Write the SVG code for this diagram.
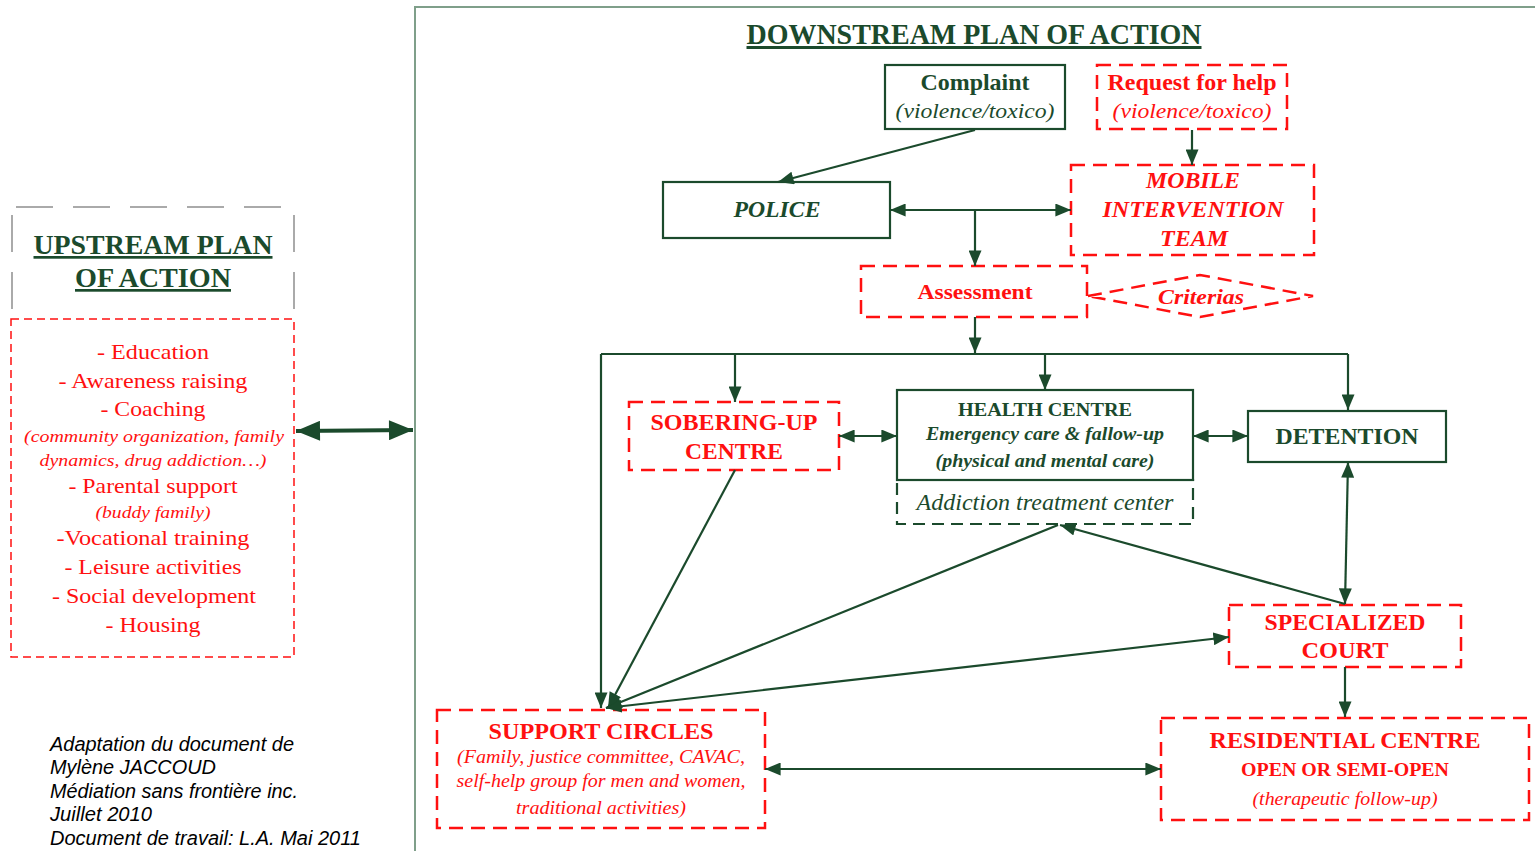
<svg xmlns="http://www.w3.org/2000/svg" width="1535" height="851" viewBox="0 0 1535 851">
<defs>
<style>
.g{fill:#1b4a2c}
.r{fill:#ff1010}
.t{font-family:"Liberation Serif","Times New Roman",serif;text-anchor:middle}
.b{font-weight:bold}
.i{font-style:italic}
.sg{fill:none;stroke:#1b4a2c;stroke-width:2.2}
.sr{fill:none;stroke:#ff1010;stroke-width:2.5;stroke-dasharray:14,8}
.sgd{fill:none;stroke:#1b4a2c;stroke-width:2.2;stroke-dasharray:12,7}
.c{fill:none;stroke:#1b4a2c;stroke-width:2.2}
.foot{font-family:"Liberation Sans",Arial,sans-serif;font-style:italic;font-size:20px;fill:#000}
</style>
<marker id="ah" viewBox="0 0 12 10" refX="12" refY="5" markerWidth="16" markerHeight="13" markerUnits="userSpaceOnUse" orient="auto-start-reverse">
<path d="M0,0 L12,5 L0,10 z" fill="#1b4a2c"/>
</marker>
<marker id="ahb" viewBox="0 0 12 10" refX="12" refY="5" markerWidth="26" markerHeight="20" markerUnits="userSpaceOnUse" orient="auto-start-reverse">
<path d="M0,0 L12,5 L0,10 z" fill="#1b4a2c"/>
</marker>
</defs>
<rect width="1535" height="851" fill="#fff"/>

<!-- frame -->
<path d="M415,851 L415,7 L1535,7" fill="none" stroke="#7f9f8a" stroke-width="2"/>

<!-- upstream -->
<g id="upstream">
<path d="M16,207 L292,207 M12,215 L12,310 M294,215 L294,310" fill="none" stroke="#aaaaaa" stroke-width="2" stroke-dasharray="37,20"/>
<text class="t b g" x="153" y="254" font-size="27" text-decoration="underline" textLength="239" lengthAdjust="spacingAndGlyphs">UPSTREAM PLAN</text>
<text class="t b g" x="153" y="287" font-size="27" text-decoration="underline" textLength="156" lengthAdjust="spacingAndGlyphs">OF ACTION</text>
<rect x="11" y="319" width="283" height="338" fill="none" stroke="#ff1010" stroke-width="1.5" stroke-dasharray="8,5"/>
<g class="t r" font-size="21">
<text x="153" y="359" textLength="112" lengthAdjust="spacingAndGlyphs">- Education</text>
<text x="153" y="388" textLength="189" lengthAdjust="spacingAndGlyphs">- Awareness raising</text>
<text x="153" y="416" textLength="105" lengthAdjust="spacingAndGlyphs">- Coaching</text>
<text class="i" x="154" y="442" font-size="17" textLength="260" lengthAdjust="spacingAndGlyphs">(community organization, family</text>
<text class="i" x="153" y="466" font-size="17" textLength="227" lengthAdjust="spacingAndGlyphs">dynamics, drug addiction…)</text>
<text x="153" y="493" textLength="169" lengthAdjust="spacingAndGlyphs">- Parental support</text>
<text class="i" x="153" y="518" font-size="16" textLength="115" lengthAdjust="spacingAndGlyphs">(buddy family)</text>
<text x="153" y="545" textLength="193" lengthAdjust="spacingAndGlyphs">-Vocational training</text>
<text x="153" y="574" textLength="177" lengthAdjust="spacingAndGlyphs">- Leisure activities</text>
<text x="154" y="603" textLength="204" lengthAdjust="spacingAndGlyphs">- Social development</text>
<text x="153" y="632" textLength="95" lengthAdjust="spacingAndGlyphs">- Housing</text>
</g>
</g>

<g id="footer" class="foot">
<text x="50" y="751" textLength="244" lengthAdjust="spacingAndGlyphs">Adaptation du document de</text>
<text x="50" y="774" textLength="166" lengthAdjust="spacingAndGlyphs">Mylène JACCOUD</text>
<text x="50" y="798" textLength="248" lengthAdjust="spacingAndGlyphs">Médiation sans frontière inc.</text>
<text x="50" y="821" textLength="102" lengthAdjust="spacingAndGlyphs">Juillet 2010</text>
<text x="50" y="845" textLength="311" lengthAdjust="spacingAndGlyphs">Document de travail: L.A. Mai 2011</text>
</g>

<g id="title">
<text class="t b g" x="974" y="44" font-size="30" text-decoration="underline" textLength="455" lengthAdjust="spacingAndGlyphs">DOWNSTREAM PLAN OF ACTION</text>
</g>

<g id="complaint">
<rect class="sg" x="885" y="65" width="180" height="64"/>
<text class="t b g" x="975" y="90" font-size="23" textLength="109" lengthAdjust="spacingAndGlyphs">Complaint</text>
<text class="t i g" x="975" y="118" font-size="22" textLength="159" lengthAdjust="spacingAndGlyphs">(violence/toxico)</text>
</g>

<g id="request">
<rect class="sr" x="1097" y="65" width="190" height="64"/>
<text class="t b r" x="1192" y="90" font-size="23" textLength="169" lengthAdjust="spacingAndGlyphs">Request for help</text>
<text class="t i r" x="1192" y="118" font-size="22" textLength="159" lengthAdjust="spacingAndGlyphs">(violence/toxico)</text>
</g>

<g id="police">
<rect class="sg" x="663" y="182" width="227" height="56"/>
<text class="t b i g" x="777" y="217" font-size="23" textLength="87" lengthAdjust="spacingAndGlyphs">POLICE</text>
</g>

<g id="mobile">
<rect class="sr" x="1071" y="165" width="243" height="90"/>
<text class="t b i r" x="1193" y="188" font-size="23" textLength="94" lengthAdjust="spacingAndGlyphs">MOBILE</text>
<text class="t b i r" x="1193" y="217" font-size="23" textLength="181" lengthAdjust="spacingAndGlyphs">INTERVENTION</text>
<text class="t b i r" x="1194" y="246" font-size="23" textLength="68" lengthAdjust="spacingAndGlyphs">TEAM</text>
</g>

<g id="assessment">
<rect class="sr" x="861" y="266" width="226" height="51"/>
<text class="t b r" x="975" y="299" font-size="21" textLength="115" lengthAdjust="spacingAndGlyphs">Assessment</text>
</g>

<g id="criterias">
<path class="sr" d="M1088,296 L1200,275 L1313,296 L1200,317 Z"/>
<text class="t b i r" x="1201" y="304" font-size="21" textLength="86" lengthAdjust="spacingAndGlyphs">Criterias</text>
</g>

<g id="sobering">
<rect class="sr" x="629" y="402" width="210" height="68"/>
<text class="t b r" x="734" y="430" font-size="23" textLength="167" lengthAdjust="spacingAndGlyphs">SOBERING-UP</text>
<text class="t b r" x="734" y="459" font-size="23" textLength="98" lengthAdjust="spacingAndGlyphs">CENTRE</text>
</g>

<g id="health">
<rect class="sg" x="897" y="390" width="296" height="90"/>
<text class="t b g" x="1045" y="416" font-size="18" textLength="174" lengthAdjust="spacingAndGlyphs">HEALTH CENTRE</text>
<text class="t b i g" x="1045" y="440" font-size="18" textLength="238" lengthAdjust="spacingAndGlyphs">Emergency care &amp; fallow-up</text>
<text class="t b i g" x="1045" y="467" font-size="18" textLength="219" lengthAdjust="spacingAndGlyphs">(physical and mental care)</text>
</g>

<g id="addiction">
<rect class="sgd" x="897" y="480" width="296" height="44"/>
<text class="t i g" x="1045" y="510" font-size="23" textLength="257" lengthAdjust="spacingAndGlyphs">Addiction treatment center</text>
</g>

<g id="detention">
<rect class="sg" x="1248" y="411" width="198" height="51"/>
<text class="t b g" x="1347" y="444" font-size="23" textLength="143" lengthAdjust="spacingAndGlyphs">DETENTION</text>
</g>

<g id="specialized">
<rect class="sr" x="1229" y="605" width="232" height="62"/>
<text class="t b r" x="1345" y="630" font-size="23" textLength="161" lengthAdjust="spacingAndGlyphs">SPECIALIZED</text>
<text class="t b r" x="1345" y="658" font-size="23" textLength="87" lengthAdjust="spacingAndGlyphs">COURT</text>
</g>

<g id="support">
<rect class="sr" x="437" y="710" width="328" height="118"/>
<text class="t b r" x="601" y="739" font-size="23" textLength="225" lengthAdjust="spacingAndGlyphs">SUPPORT CIRCLES</text>
<text class="t i r" x="601" y="763" font-size="18" textLength="288" lengthAdjust="spacingAndGlyphs">(Family, justice committee, CAVAC,</text>
<text class="t i r" x="601" y="787" font-size="18" textLength="289" lengthAdjust="spacingAndGlyphs">self-help group for men and women,</text>
<text class="t i r" x="601" y="814" font-size="18" textLength="170" lengthAdjust="spacingAndGlyphs">traditional activities)</text>
</g>

<g id="residential">
<rect class="sr" x="1161" y="718" width="368" height="102"/>
<text class="t b r" x="1345" y="748" font-size="23" textLength="271" lengthAdjust="spacingAndGlyphs">RESIDENTIAL CENTRE</text>
<text class="t b r" x="1345" y="776" font-size="18" textLength="208" lengthAdjust="spacingAndGlyphs">OPEN OR SEMI-OPEN</text>
<text class="t i r" x="1345" y="805" font-size="18" textLength="185" lengthAdjust="spacingAndGlyphs">(therapeutic follow-up)</text>
</g>

<g id="connectors">
<path class="c" d="M975,130 L778,182" marker-end="url(#ah)"/>
<path class="c" d="M1192,130 L1192,165" marker-end="url(#ah)"/>
<path class="c" d="M890,210 L1071,210" marker-start="url(#ah)" marker-end="url(#ah)"/>
<path class="c" d="M975,210 L975,266" marker-end="url(#ah)"/>
<path class="c" d="M975,317 L975,353" marker-end="url(#ah)"/>
<path class="c" d="M601,354 L1348,354"/>
<path class="c" d="M735,354 L735,402" marker-end="url(#ah)"/>
<path class="c" d="M1045,354 L1045,390" marker-end="url(#ah)"/>
<path class="c" d="M1348,354 L1348,410" marker-end="url(#ah)"/>
<path class="c" d="M601,354 L601,708" marker-end="url(#ah)"/>
<path class="c" d="M839,436 L897,436" marker-start="url(#ah)" marker-end="url(#ah)"/>
<path class="c" d="M1193,436 L1248,436" marker-start="url(#ah)" marker-end="url(#ah)"/>
<path class="c" d="M1348,462 L1345,604" marker-start="url(#ah)" marker-end="url(#ah)"/>
<path class="c" d="M1345,604 L1060,525" marker-end="url(#ah)"/>
<path class="c" d="M1058,525 L606,708" marker-end="url(#ah)"/>
<path class="c" d="M735,470 L608,708" marker-end="url(#ah)"/>
<path class="c" d="M1229,637 L606,708" marker-start="url(#ah)" marker-end="url(#ah)"/>
<path class="c" d="M1345,667 L1345,717" marker-end="url(#ah)"/>
<path class="c" d="M765,769 L1161,769" marker-start="url(#ah)" marker-end="url(#ah)"/>
<path d="M296,431 L413,430" fill="none" stroke="#1b4a2c" stroke-width="4" marker-start="url(#ahb)" marker-end="url(#ahb)"/>
</g>
</svg>
